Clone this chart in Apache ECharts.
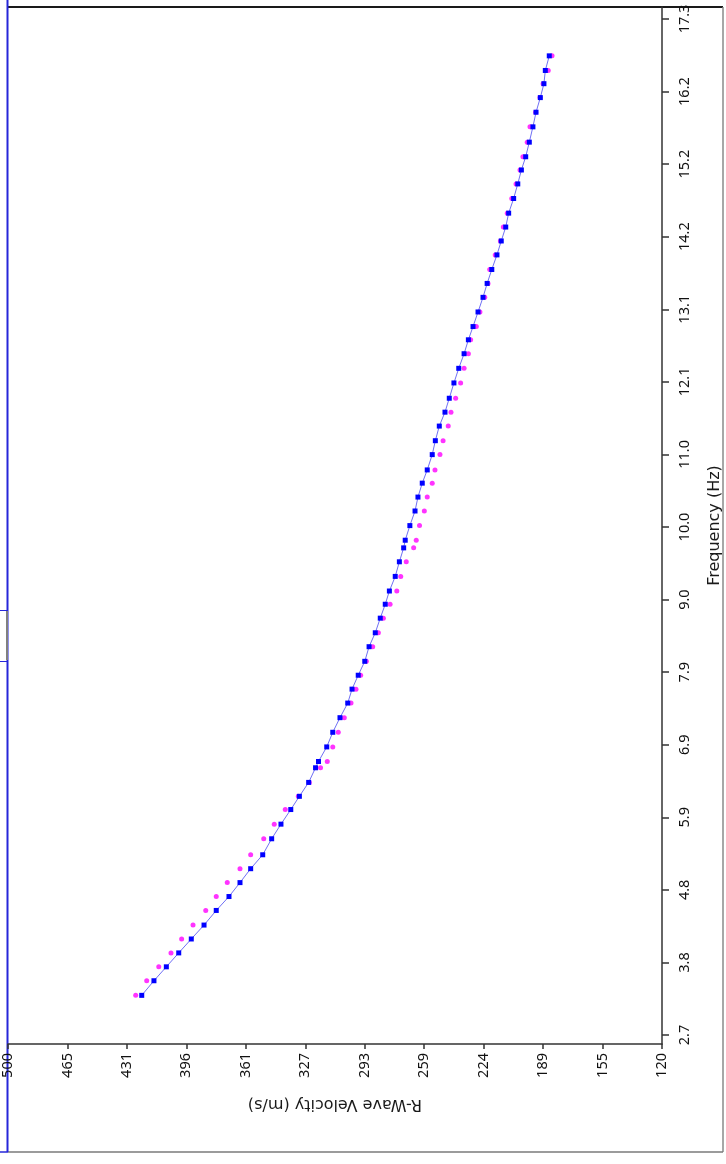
<!DOCTYPE html>
<html>
<head>
<meta charset="utf-8">
<script src="https://cdn.jsdelivr.net/npm/echarts@6/dist/echarts.min.js"></script>
<style>
html,body{margin:0;padding:0;background:#fff;}
#chart{width:726px;height:1164px;}
</style>
</head>
<body>
<div id="chart"></div>
<script>
// Frequency (Hz) of each measured point (bottom to top)
const freq = [3.27,3.48,3.68,3.88,4.08,4.28,4.49,4.69,4.89,5.09,
  5.29,5.52,5.73,5.94,6.13,6.33,6.54,6.63,6.84,7.05,
  7.26,7.47,7.67,7.87,8.07,8.28,8.48,8.69,8.89,9.08,
  9.29,9.50,9.70,9.81,10.02,10.23,10.43,10.63,10.82,11.04,
  11.24,11.45,11.65,11.85,12.07,12.28,12.49,12.69,12.88,13.09,
  13.30,13.50,13.70,13.91,14.11,14.31,14.51,14.72,14.93,15.13,
  15.32,15.53,15.75,15.96,16.17,16.37,16.56,16.77];
// Blue series (line + markers): R-wave velocity (m/s)
const blueVel = [422.3,415.2,408.0,400.8,393.5,386.1,379.0,371.6,365.2,359.0,
  352.0,346.8,341.4,335.7,330.7,325.3,321.3,319.6,314.8,311.3,
  307.1,302.6,300.1,296.5,292.7,290.2,286.6,283.7,280.8,278.4,
  275.0,272.6,270.1,269.2,266.5,263.5,261.8,259.3,256.4,253.5,
  251.7,249.4,246.1,243.6,240.9,238.1,235.0,232.5,229.8,226.9,
  224.0,221.6,218.9,215.9,213.4,210.8,209.1,206.2,203.8,201.7,
  199.2,197.1,195.0,193.2,190.7,188.6,187.8,185.5];
// Magenta series (points only)
const magentaVel = [425.8,419.4,412.4,405.3,399.1,392.5,385.1,379.0,372.6,365.2,
  359.0,351.4,345.3,338.9,331.3,324.9,318.4,314.5,311.3,308.1,
  304.6,300.7,297.8,295.1,291.8,288.1,284.8,281.9,278.0,274.1,
  271.8,268.6,264.3,262.8,260.9,258.1,256.4,253.5,251.9,249.0,
  247.2,244.2,242.6,239.9,237.0,235.0,232.5,231.2,227.9,225.8,
  223.0,221.1,220.1,216.9,213.9,212.2,209.9,207.3,204.8,202.5,
  200.8,198.3,196.7,193.4,190.9,189.1,186.1,183.9];
// Tick labels
const velTickLabels = ["500","465","431","396","361","327","293","259","224","189","155","120"];
const freqTickLabels = ["2.7","3.8","4.8","5.9","6.9","7.9","9.0","10.0","11.0","12.1","13.1","14.2","15.2","16.2","17.3"];

const velMin = 120, velMax = 500;
const freqFirst = 2.7, freqLast = 17.3;
const velTicks = velTickLabels.map((_, i) => velMax - i * (velMax - velMin) / (velTickLabels.length - 1));
const freqTicks = freqTickLabels.map((_, i) => freqFirst + i * (freqLast - freqFirst) / (freqTickLabels.length - 1));

function nearestLabel(ticks, labels, v) {
  let best = 0, bd = Infinity;
  ticks.forEach((t, i) => { const d = Math.abs(t - v); if (d < bd) { bd = d; best = i; } });
  return labels[best];
}

const chart = echarts.init(document.getElementById('chart'), null, {renderer: 'canvas'});
const FONT = '"Noto Sans", "Open Sans", sans-serif';
const NAMEFONT = '"DejaVu Sans", "Noto Sans", sans-serif';
const axisCol = '#333333';
chart.setOption({
  animation: false,
  backgroundColor: '#ffffff',
  grid: {left: 8, right: 64, top: 7, bottom: 120, containLabel: false, outerBoundsMode: 'none'},
  xAxis: {
    type: 'value', min: velMin, max: velMax, inverse: true, position: 'bottom',
    name: 'R-Wave Velocity (m/s)', nameLocation: 'middle', nameGap: 52, nameRotate: 180,
    nameTextStyle: {fontFamily: NAMEFONT, fontSize: 16, color: '#1a1a1a'},
    axisLine: {show: true, onZero: false, lineStyle: {color: axisCol, width: 1.5}},
    axisTick: {show: true, length: 5, customValues: velTicks, lineStyle: {color: axisCol, width: 1.5}},
    axisLabel: {show: true, rotate: 90, margin: 9, customValues: velTicks,
      fontFamily: FONT, fontSize: 14.5, color: '#111',
      formatter: v => nearestLabel(velTicks, velTickLabels, v)},
    splitLine: {show: false}
  },
  yAxis: {
    type: 'value', min: 2.571, max: 17.472, position: 'right',
    name: 'Frequency (Hz)', nameLocation: 'middle', nameGap: 45, nameRotate: 90,
    nameTextStyle: {fontFamily: NAMEFONT, fontSize: 16, color: '#1a1a1a'},
    axisLine: {show: true, onZero: false, lineStyle: {color: axisCol, width: 1.5}},
    axisTick: {show: true, length: 7, customValues: freqTicks, lineStyle: {color: axisCol, width: 1.5}},
    axisLabel: {show: true, rotate: 90, margin: 15, customValues: freqTicks,
      fontFamily: FONT, fontSize: 14.5, color: '#111',
      formatter: v => nearestLabel(freqTicks, freqTickLabels, v)},
    splitLine: {show: false}
  },
  series: [
    {
      type: 'scatter', name: 'magenta',
      data: freq.map((f, i) => [magentaVel[i], f]),
      symbol: 'circle', symbolSize: 5,
      itemStyle: {color: '#ff00ff'}, z: 2
    },
    {
      type: 'line', name: 'blue',
      data: freq.map((f, i) => [blueVel[i], f]),
      symbol: 'rect', symbolSize: 5, showSymbol: true,
      lineStyle: {color: '#7070f5', width: 1},
      itemStyle: {color: '#0000ff'}, z: 3
    }
  ],
  graphic: [
    {type: 'line', shape: {x1: 8, y1: 7, x2: 723, y2: 7}, style: {stroke: '#1a1a1a', lineWidth: 2}},
    {type: 'line', shape: {x1: 723, y1: 7, x2: 723, y2: 1152}, style: {stroke: '#8a8a8a', lineWidth: 1.5}},
    {type: 'line', shape: {x1: 8, y1: 1152, x2: 723, y2: 1152}, style: {stroke: '#7a7a7a', lineWidth: 1.5}},
    {type: 'line', shape: {x1: 7.5, y1: 0, x2: 7.5, y2: 1152}, style: {stroke: '#2626d9', lineWidth: 2}},
    {type: 'line', shape: {x1: 7, y1: 611, x2: 7, y2: 660}, style: {stroke: '#808080', lineWidth: 2}},
    {type: 'line', shape: {x1: 0, y1: 610.5, x2: 7, y2: 610.5}, style: {stroke: '#2626d9', lineWidth: 1}},
    {type: 'line', shape: {x1: 0, y1: 661.5, x2: 7, y2: 661.5}, style: {stroke: '#2626d9', lineWidth: 1}},
    {type: 'line', shape: {x1: 0, y1: 1152, x2: 8, y2: 1152}, style: {stroke: '#2626d9', lineWidth: 1.5}}
  ]
});
</script>
</body>
</html>
